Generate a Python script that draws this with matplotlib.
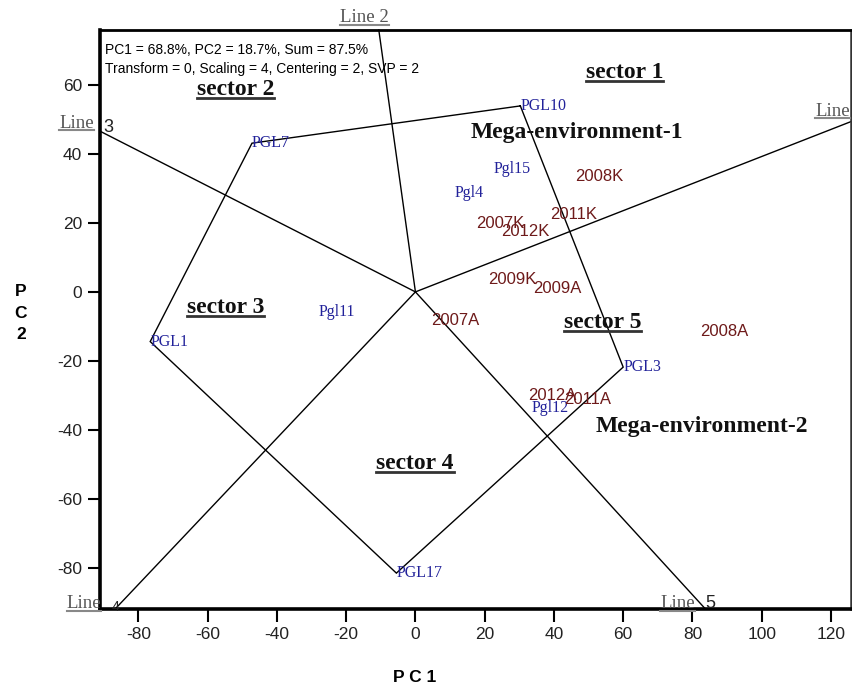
import numpy as np
import matplotlib
matplotlib.use("Agg")
import matplotlib.pyplot as plt
from matplotlib.lines import Line2D

# ---------------- data ----------------
hull_names = ["PGL10", "PGL3", "PGL17", "PGL1", "PGL7"]
hull_x = [30.3, 60.0, -5.5, -76.6, -47.2]
hull_y = [53.9, -21.8, -81.5, -14.4, 43.1]
# number of the ray drawn perpendicular to each hull side (side i -> i+1)
side_line_numbers = ["1", "5", "4", "3", "2"]

geno_names = ["Pgl15", "Pgl4", "Pgl11", "Pgl12"]
geno_x = [27.9, 15.4, -22.6, 39.0]
geno_y = [35.6, 28.6, -5.7, -33.7]

env_names = ["2008K", "2011K", "2007K", "2012K", "2009K", "2009A",
             "2007A", "2008A", "2012A", "2011A"]
env_x = [53.2, 45.8, 24.6, 31.8, 27.9, 41.1, 11.6, 89.1, 39.5, 49.6]
env_y = [33.4, 22.3, 19.7, 17.5, 3.5, 1.1, -8.4, -11.5, -29.9, -31.3]

sector_names = ["sector 1", "sector 2", "sector 3", "sector 4", "sector 5"]
sector_x = [60.4, -51.9, -54.9, -0.1, 54.0]
sector_y = [63.5, 58.6, -4.6, -49.6, -9.0]

mega_names = ["Mega-environment-1", "Mega-environment-2"]
mega_x = [46.5, 82.7]
mega_y = [46.1, -39.0]

xticks = [-80, -60, -40, -20, 0, 20, 40, 60, 80, 100, 120]
yticks = [-80, -60, -40, -20, 0, 20, 40, 60]
xlim = (-91.1, 125.8)
ylim = (-91.9, 75.9)

info_text = "PC1 = 68.8%, PC2 = 18.7%, Sum = 87.5%\nTransform = 0, Scaling = 4, Centering = 2, SVP = 2"

# ---------------- figure ----------------
W, H = 853, 691
fig = plt.figure(figsize=(W / 100, H / 100), dpi=100)
ax = fig.add_axes([100 / W, 1 - 609 / H, 751 / W, 579 / H])
ax.set_xlim(*xlim)
ax.set_ylim(*ylim)

SERIF = ["Liberation Serif", "DejaVu Serif"]
SANS = ["Liberation Sans", "DejaVu Sans"]
BLUE = "#22229a"
RED = "#6e1a1a"

# polygon
px = hull_x + [hull_x[0]]
py = hull_y + [hull_y[0]]
ax.plot(px, py, color="black", lw=1.0, solid_joinstyle="miter")

# rays perpendicular to polygon sides
ends = {}
for i in range(len(hull_x)):
    a = np.array([hull_x[i], hull_y[i]])
    b = np.array([hull_x[(i + 1) % len(hull_x)], hull_y[(i + 1) % len(hull_y)]])
    d = b - a
    t = -a.dot(d) / d.dot(d)
    foot = a + t * d
    u = foot / np.linalg.norm(foot)
    ts = [(xlim[1] if u[0] > 0 else xlim[0]) / u[0],
          (ylim[1] if u[1] > 0 else ylim[0]) / u[1]]
    e = u * min(ts)
    ends[side_line_numbers[i]] = e
    ax.plot([0, e[0]], [0, e[1]], color="black", lw=1.0, clip_on=False)

# labels
for n, x, y in zip(hull_names, hull_x, hull_y):
    ax.text(x, y, n, color=BLUE, fontsize=11.5, family=SERIF, ha="left", va="center")
for n, x, y in zip(geno_names, geno_x, geno_y):
    ax.text(x, y, n, color=BLUE, fontsize=11.5, family=SERIF, ha="center", va="center")
for n, x, y in zip(env_names, env_x, env_y):
    ax.text(x, y, n, color=RED, fontsize=12, family=SANS, ha="center", va="center")

underline_items = []
for n, x, y in zip(sector_names, sector_x, sector_y):
    t = ax.text(x, y, n, color="#111111", fontsize=17, family=SERIF, fontweight="bold",
                ha="center", va="center")
    underline_items.append((t, "#333333", 2.0))
for n, x, y in zip(mega_names, mega_x, mega_y):
    ax.text(x, y, n, color="#111111", fontsize=17, family=SERIF, fontweight="bold",
            ha="center", va="center")

# line labels (offsets in pixels from ray end)
GRAY = "#555555"
word_style = {"1": (-1, 10, "right", "Line"),
              "2": (-14, 12, "center", "Line 2"),
              "3": (-6, 8, "right", "Line"),
              "4": (-14, 5, "right", "Line"),
              "5": (-28, 5, "center", "Line")}
num_style = {"3": (3, 4, 13), "4": (-4, 2, 10), "5": (0, 5, 13)}
for num, e in ends.items():
    ox, oy, ha, word = word_style[num]
    t = ax.annotate(word, xy=(e[0], e[1]), xytext=(ox, oy), textcoords="offset pixels",
                    fontsize=13.5, family=SERIF, color=GRAY, ha=ha, va="center",
                    annotation_clip=False)
    underline_items.append((t, "#888888", 1.5))
    if num in num_style:
        nx, ny, fs = num_style[num]
        ax.annotate(num, xy=(e[0], e[1]), xytext=(nx, ny),
                    textcoords="offset pixels", fontsize=fs, family=SANS,
                    color="#222222", ha="left", va="center", annotation_clip=False)

# info text
ax.text(5 / 751, 1 - 13 / 579, info_text, transform=ax.transAxes, fontsize=10,
        family=SANS, ha="left", va="top", linespacing=1.45, color="black")

# axes styling
ax.set_xticks(xticks)
ax.set_yticks(yticks)
ax.set_xticklabels([str(v) for v in xticks], family=SANS)
ax.set_yticklabels([str(v) for v in yticks], family=SANS)
ax.tick_params(direction="out", length=9, width=1.5, labelsize=12.5, pad=4,
               colors="black", labelcolor="#222222")
ax.spines["left"].set_linewidth(2.6)
ax.spines["bottom"].set_linewidth(2.6)
ax.spines["top"].set_linewidth(2.0)
ax.spines["right"].set_linewidth(1.8)
ax.spines["right"].set_color("#333333")

fig.text(415 / W, 1 - 678 / H, "P C 1", fontsize=12.5, fontweight="bold",
         family=SANS, ha="center", va="center")
fig.text(21 / W, 1 - 313 / H, "P\nC\n2", fontsize=12.5, fontweight="bold",
         family=SANS, ha="center", va="center", linespacing=1.55)

# underline helper
fig.canvas.draw()
renderer = fig.canvas.get_renderer()
inv = fig.transFigure.inverted()
for t, c, lw in underline_items:
    bb = t.get_window_extent(renderer)
    yline = bb.y0 + 2
    p0 = inv.transform((bb.x0, yline))
    p1 = inv.transform((bb.x1, yline))
    fig.add_artist(Line2D([p0[0], p1[0]], [p0[1], p1[1]], color=c, lw=lw,
                          transform=fig.transFigure))

fig.savefig("out.png", dpi=100)
